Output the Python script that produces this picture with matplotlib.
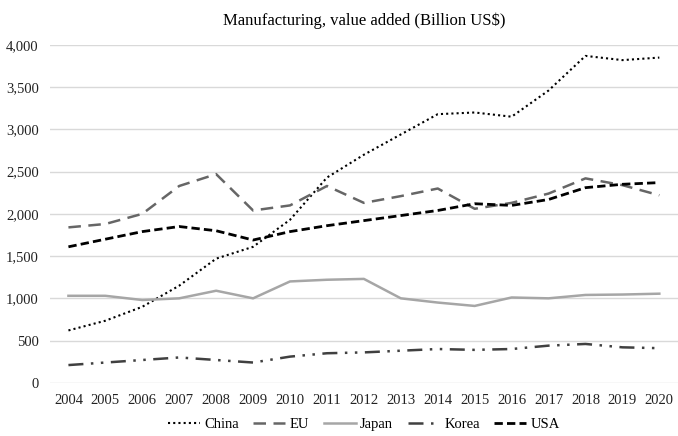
import matplotlib
matplotlib.use("Agg")
import matplotlib.pyplot as plt
from matplotlib.ticker import FuncFormatter

years = list(range(2004, 2021))
china = [620, 735, 900, 1150, 1470, 1610, 1930, 2430, 2700, 2940, 3180, 3200, 3150, 3460, 3870, 3820, 3850]
eu = [1840, 1880, 2000, 2330, 2470, 2040, 2100, 2330, 2130, 2210, 2300, 2060, 2130, 2240, 2420, 2340, 2220]
japan = [1030, 1030, 980, 1000, 1090, 1000, 1200, 1220, 1230, 1000, 950, 910, 1010, 1000, 1040, 1045, 1055]
korea = [210, 240, 270, 300, 270, 240, 310, 350, 360, 380, 400, 390, 400, 440, 460, 420, 410]
usa = [1610, 1700, 1790, 1850, 1800, 1690, 1790, 1860, 1920, 1980, 2040, 2120, 2100, 2170, 2310, 2350, 2370]

plt.rcParams['font.family'] = ['Liberation Serif', 'DejaVu Serif']

fig = plt.figure(figsize=(6.78, 4.36), dpi=100)
ax = fig.add_axes([0.0737, 0.122, 0.926, 0.775])

ax.plot(years, china, color='black', lw=1.5, linestyle=(0, (1, 1.5)), label='China')
ax.plot(years, eu, color='#666666', lw=1.8, linestyle=(0, (5, 3)), label='EU')
ax.plot(years, japan, color='#a6a6a6', lw=1.8, linestyle='-', label='Japan')
ax.plot(years, korea, color='#404040', lw=1.8, linestyle=(0, (6, 3, 1, 3, 1, 3)), label='Korea')
ax.plot(years, usa, color='black', lw=2.0, linestyle=(0, (3, 1.5)), label='USA')

ax.set_xlim(2003.5, 2020.5)
ax.set_ylim(0, 4000)
ax.set_yticks(range(0, 4001, 500))
ax.yaxis.set_major_formatter(FuncFormatter(lambda v, p: f"{int(v):,}"))
ax.set_xticks(years)
ax.grid(axis='y', color='#d9d9d9', lw=1)
ax.set_axisbelow(True)
for s in ax.spines.values():
    s.set_visible(False)
ax.tick_params(axis='both', length=0, labelsize=10.5, colors='#222222', pad=8)

ax.set_title('Manufacturing, value added (Billion US$)', fontsize=12, pad=14)
ax.legend(loc='upper center', bbox_to_anchor=(0.5, -0.065), ncol=5, frameon=False,
          fontsize=10.5, handlelength=2.2, columnspacing=1.0, handletextpad=0.3)

fig.savefig('out.png', dpi=100)
